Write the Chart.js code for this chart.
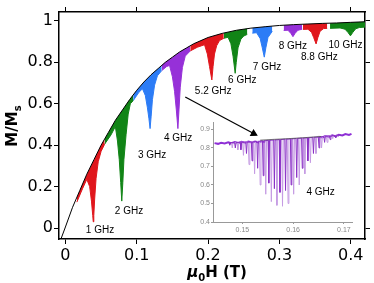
<!DOCTYPE html>
<html>
<head>
<meta charset="utf-8">
<script src="https://cdn.jsdelivr.net/npm/chart.js@4.4.1/dist/chart.umd.min.js"></script>
<style>
  body { margin: 0; background: #fff; }
  #wrap { position: relative; width: 374px; height: 283px; }
  #main { position: absolute; left: 0; top: 0; }
  #inset { position: absolute; left: 180px; top: 112px; }
</style>
</head>
<body>
<div id="wrap">
  <canvas id="main" width="374" height="283"></canvas>
  <canvas id="inset" width="180" height="128"></canvas>
</div>
<script>
// main panel
const xTicks = [0, 0.1, 0.2, 0.3, 0.4];
const yTicks = [0, 0.2, 0.4, 0.6, 0.8, 1];

// static magnetization curve M/Ms vs mu0H (T)
const fieldH = [-0.007, 0, 0.01, 0.02, 0.03, 0.04, 0.05, 0.06, 0.07, 0.08, 0.09, 0.10, 0.11, 0.12, 0.13, 0.14,
  0.15, 0.16, 0.17, 0.18, 0.19, 0.20, 0.22, 0.24, 0.26, 0.28, 0.30, 0.32, 0.34, 0.36, 0.38, 0.40, 0.42];
const magM = [-0.06, 0.005, 0.10, 0.18, 0.26, 0.33, 0.40, 0.46, 0.52, 0.57, 0.62, 0.665, 0.705, 0.74, 0.77, 0.80,
  0.825, 0.85, 0.87, 0.89, 0.905, 0.92, 0.94, 0.955, 0.965, 0.972, 0.978, 0.982, 0.985, 0.988, 0.99, 0.993, 0.996];

// lower edge of each resonance band [H, M]
const dip1 = [[0.016,0.125],[0.024,0.19],[0.030,0.235],[0.034,0.20],[0.0365,0.13],[0.0383,0.06],[0.039,0.03],
  [0.0398,0.06],[0.041,0.14],[0.043,0.24],[0.046,0.32],[0.050,0.37],[0.055,0.405]];
const dip2 = [[0.055,0.405],[0.064,0.45],[0.070,0.49],[0.073,0.42],[0.0755,0.33],[0.0775,0.22],[0.079,0.13],
  [0.0805,0.22],[0.082,0.33],[0.085,0.45],[0.088,0.55],[0.091,0.60],[0.095,0.615]];
const dip3 = [[0.095,0.615],[0.103,0.655],[0.108,0.672],[0.112,0.64],[0.115,0.58],[0.117,0.53],[0.1187,0.48],
  [0.1202,0.54],[0.122,0.62],[0.125,0.69],[0.129,0.735],[0.135,0.76]];
const dip4 = [[0.135,0.76],[0.142,0.78],[0.146,0.785],[0.150,0.73],[0.153,0.66],[0.1555,0.57],[0.1577,0.48],
  [0.1592,0.57],[0.161,0.68],[0.164,0.775],[0.168,0.83],[0.175,0.855]];
const dip5 = [[0.175,0.855],[0.185,0.873],[0.195,0.885],[0.199,0.84],[0.202,0.78],[0.2053,0.715],[0.207,0.78],
  [0.209,0.84],[0.212,0.88],[0.216,0.905],[0.222,0.916]];
const dip6 = [[0.222,0.916],[0.228,0.921],[0.232,0.89],[0.235,0.83],[0.238,0.747],[0.2395,0.80],[0.242,0.87],
  [0.246,0.912],[0.250,0.927],[0.255,0.935]];
const dip7 = [[0.262,0.941],[0.268,0.943],[0.273,0.915],[0.276,0.87],[0.2788,0.825],[0.281,0.87],[0.284,0.92],[0.290,0.95]];
const dip8 = [[0.306,0.954],[0.312,0.955],[0.316,0.94],[0.319,0.924],[0.322,0.94],[0.326,0.955],[0.332,0.96]];
const dip9 = [[0.333,0.959],[0.340,0.96],[0.345,0.945],[0.348,0.92],[0.3514,0.889],[0.354,0.92],[0.357,0.95],
  [0.362,0.963],[0.367,0.964]];
const dip10 = [[0.371,0.964],[0.385,0.966],[0.392,0.96],[0.396,0.945],[0.3996,0.928],[0.403,0.945],[0.407,0.962],
  [0.412,0.968],[0.42,0.97]];
const dips = [dip1, dip2, dip3, dip4, dip5, dip6, dip7, dip8, dip9, dip10];
const freqLabels = ['1 GHz', '2 GHz', '3 GHz', '4 GHz', '5.2 GHz', '6 GHz', '7 GHz', '8 GHz', '8.8 GHz', '10 GHz'];

// where the labels sit (data coords of label centre)
const labelPos = [[0.0485,-0.013],[0.0892,0.079],[0.1215,0.349],[0.158,0.433],[0.2072,0.658],
  [0.2479,0.715],[0.2826,0.776],[0.3188,0.879],[0.356,0.825],[0.3926,0.884]];
const arrowPts = [[0.168,0.633],[0.2639,0.456]];

const bandColors = ['#e0161c', '#118416', '#2c7cf6', '#9630d8'];

// inset (4 GHz, zoomed)
const insetXTicks = [0.15, 0.16, 0.17];
const insetYTicks = [0.4, 0.5, 0.6, 0.7, 0.8, 0.9];
const lightH = [0.1480,0.1491,0.1502,0.1513,0.1524,0.1535,0.1546,0.1557,0.1568,0.1579,0.1590,0.1601,0.1612,
  0.1623,0.1634,0.1645,0.1656,0.1667,0.1678,0.1689];
const lightTop = [0.829,0.830,0.831,0.832,0.834,0.837,0.840,0.842,0.844,0.846,0.848,0.850,0.852,0.854,0.856,
  0.858,0.861,0.864,0.866,0.869];
const lightTip = [0.80,0.79,0.76,0.71,0.66,0.60,0.55,0.51,0.49,0.485,0.50,0.55,0.60,0.66,0.72,0.77,0.80,0.83,0.85,0.86];
const darkH = [0.1475,0.1486,0.1497,0.1508,0.1519,0.1530,0.1541,0.1552,0.1563,0.1574,0.1585,0.1596,0.1607,
  0.1618,0.1629,0.1640,0.1651,0.1662,0.1673,0.1684,0.1695];
const darkTop = [0.829,0.829,0.830,0.831,0.833,0.835,0.838,0.841,0.843,0.845,0.847,0.849,0.851,0.853,0.855,
  0.857,0.859,0.862,0.865,0.867,0.870];
const darkTip = [0.815,0.80,0.79,0.77,0.73,0.69,0.65,0.61,0.58,0.56,0.57,0.60,0.64,0.69,0.73,0.77,0.80,0.83,
  0.845,0.855,0.865];
const baseH1 = [0.1445,0.1452,0.1458,0.1465,0.1472,0.1478,0.1485,0.1492,0.1498,0.1505,0.1512,0.1518,0.1525,0.1532,0.1538,0.1545];
const baseM1 = [0.826,0.822,0.828,0.824,0.830,0.826,0.832,0.827,0.833,0.828,0.834,0.829,0.835,0.830,0.836,0.832];
const baseH2 = [0.1650,0.1657,0.1663,0.1670,0.1677,0.1683,0.1690,0.1697,0.1703,0.1710,0.1715];
const baseM2 = [0.860,0.856,0.864,0.860,0.868,0.863,0.871,0.867,0.875,0.870,0.876];
const envH = [0.1535, 0.156, 0.159, 0.162, 0.1655];
const envM = [0.842, 0.846, 0.850, 0.855, 0.862];

Chart.defaults.font.family = 'DejaVu Sans';

const toXY = (hs, ms) => hs.map((h, i) => ({ x: h, y: ms[i] }));
const pairs = arr => arr.map(p => ({ x: p[0], y: p[1] }));

function fixedTicks(list) {
  return scale => { scale.ticks = list.map(v => ({ value: v })); };
}

const datasets = [{
  data: toXY(fieldH, magM),
  borderColor: '#000', borderWidth: 1, pointRadius: 0, fill: false
}];
dips.forEach((d, i) => {
  const c = bandColors[i % 4];
  datasets.push({
    data: pairs(d),
    borderColor: c, backgroundColor: c, borderWidth: 1, pointRadius: 0,
    fill: { target: 0 }
  });
});
datasets.push({
  data: pairs(arrowPts),
  borderColor: '#000', borderWidth: 1.2,
  pointRadius: [0, 3.5], pointStyle: 'triangle', pointRotation: [0, 118],
  pointBackgroundColor: '#000', pointBorderColor: '#000', fill: false
});

const textPlugin = {
  id: 'texts',
  afterDraw(chart) {
    const { ctx, scales } = chart;
    ctx.save();
    ctx.fillStyle = '#000';
    ctx.font = '10px "Liberation Sans"';
    ctx.textAlign = 'center';
    ctx.textBaseline = 'middle';
    freqLabels.forEach((t, i) => {
      ctx.fillText(t, scales.x.getPixelForValue(labelPos[i][0]), scales.y.getPixelForValue(labelPos[i][1]));
    });

    // y title M/Ms
    ctx.save();
    ctx.translate(17, 126);
    ctx.rotate(-Math.PI / 2);
    ctx.textAlign = 'left';
    ctx.textBaseline = 'alphabetic';
    ctx.font = 'bold 15px "DejaVu Sans"';
    const w1 = ctx.measureText('M/M').width;
    ctx.font = 'bold 10px "DejaVu Sans"';
    const w2 = ctx.measureText('s').width;
    const x0 = -(w1 + w2) / 2;
    ctx.font = 'bold 15px "DejaVu Sans"';
    ctx.fillText('M/M', x0, 0);
    ctx.font = 'bold 10px "DejaVu Sans"';
    ctx.fillText('s', x0 + w1, 4);
    ctx.restore();

    // x title mu0H (T)
    ctx.textAlign = 'left';
    ctx.textBaseline = 'alphabetic';
    const parts = [
      ['bold italic 15px "DejaVu Sans"', '\u03bc', 0],
      ['bold 10px "DejaVu Sans"', '0', 4],
      ['bold 15px "DejaVu Sans"', 'H (T)', 0]
    ];
    let total = 0;
    parts.forEach(p => { ctx.font = p[0]; total += ctx.measureText(p[1]).width; });
    let x = 217 - total / 2;
    parts.forEach(p => {
      ctx.font = p[0];
      ctx.fillText(p[1], x, 277 + p[2]);
      x += ctx.measureText(p[1]).width;
    });
    ctx.restore();
  }
};

const axisCommon = {
  type: 'linear',
  grid: { drawOnChartArea: false, drawTicks: true, tickLength: 5, color: '#000', lineWidth: 1 },
  border: { display: true, color: '#000', width: 1.5 }
};

new Chart(document.getElementById('main'), {
  type: 'line',
  data: { datasets },
  options: {
    responsive: false,
    animation: false,
    layout: { padding: 0 },
    elements: { line: { tension: 0 } },
    plugins: { legend: { display: false }, tooltip: { enabled: false } },
    scales: {
      x: Object.assign({}, axisCommon, {
        position: 'bottom', min: -0.009, max: 0.42,
        afterBuildTicks: fixedTicks(xTicks),
        afterFit: s => { s.height = 44; },
        ticks: { color: '#000', font: { size: 16 }, padding: 2, maxRotation: 0, callback: v => String(v) }
      }),
      xTop: Object.assign({}, axisCommon, {
        position: 'top', min: -0.009, max: 0.42,
        afterBuildTicks: fixedTicks(xTicks),
        afterFit: s => { s.height = 12; },
        ticks: { display: false }
      }),
      y: Object.assign({}, axisCommon, {
        position: 'left', min: -0.053, max: 1.043,
        afterBuildTicks: fixedTicks(yTicks),
        afterFit: s => { s.width = 59; },
        ticks: { color: '#000', font: { size: 16 }, padding: 1, callback: v => String(v) }
      }),
      yRight: Object.assign({}, axisCommon, {
        position: 'right', min: -0.053, max: 1.043,
        afterBuildTicks: fixedTicks(yTicks),
        afterFit: s => { s.width = 9; },
        ticks: { display: false }
      })
    }
  },
  plugins: [textPlugin]
});

// inset
function zigzag(hs, tops, tips, hw) {
  const pts = [];
  hs.forEach((h, i) => {
    pts.push({ x: h - hw, y: tops[i] }, { x: h, y: tips[i] }, { x: h + hw, y: tops[i] });
  });
  return pts;
}

const insetLabel = {
  id: 'insetLabel',
  afterDraw(chart) {
    const { ctx, scales } = chart;
    ctx.save();
    ctx.fillStyle = '#000';
    ctx.font = '10px "Liberation Sans"';
    ctx.textAlign = 'center';
    ctx.textBaseline = 'middle';
    ctx.fillText('4 GHz', scales.x.getPixelForValue(0.1654), scales.y.getPixelForValue(0.558));
    ctx.restore();
  }
};

const insetAxis = {
  type: 'linear',
  grid: { drawOnChartArea: false, drawTicks: true, tickLength: 2, color: '#999', lineWidth: 1 },
  border: { display: true, color: '#999', width: 1 }
};

new Chart(document.getElementById('inset'), {
  type: 'line',
  data: {
    datasets: [
      { data: toXY(envH, envM), borderColor: '#555', borderWidth: 0.8, pointRadius: 0 },
      { data: zigzag(darkH, darkTop, darkTip, 0.00014), borderColor: '#8a2fc6', borderWidth: 1, pointRadius: 0 },
      { data: zigzag(lightH, lightTop, lightTip, 0.00016), borderColor: '#c59be3', borderWidth: 1, pointRadius: 0 },
      { data: toXY(baseH1, baseM1), borderColor: '#8e2fd6', borderWidth: 2, pointRadius: 0 },
      { data: toXY(baseH2, baseM2), borderColor: '#8e2fd6', borderWidth: 2, pointRadius: 0 }
    ]
  },
  options: {
    responsive: false,
    animation: false,
    layout: { padding: { top: 10, right: 8, left: 0, bottom: 0 } },
    elements: { line: { tension: 0 } },
    plugins: { legend: { display: false }, tooltip: { enabled: false } },
    scales: {
      x: Object.assign({}, insetAxis, {
        position: 'bottom', min: 0.1442, max: 0.1716,
        afterBuildTicks: fixedTicks(insetXTicks),
        afterFit: s => { s.height = 18; },
        ticks: { color: '#888', font: { size: 7, family: 'Liberation Sans' }, padding: 2, maxRotation: 0, callback: v => String(v) }
      }),
      y: Object.assign({}, insetAxis, {
        position: 'left', min: 0.4, max: 0.94,
        afterBuildTicks: fixedTicks(insetYTicks),
        afterFit: s => { s.width = 33; },
        ticks: { color: '#888', font: { size: 7, family: 'Liberation Sans' }, padding: 1, callback: v => String(v) }
      })
    }
  },
  plugins: [insetLabel]
});
</script>
</body>
</html>
